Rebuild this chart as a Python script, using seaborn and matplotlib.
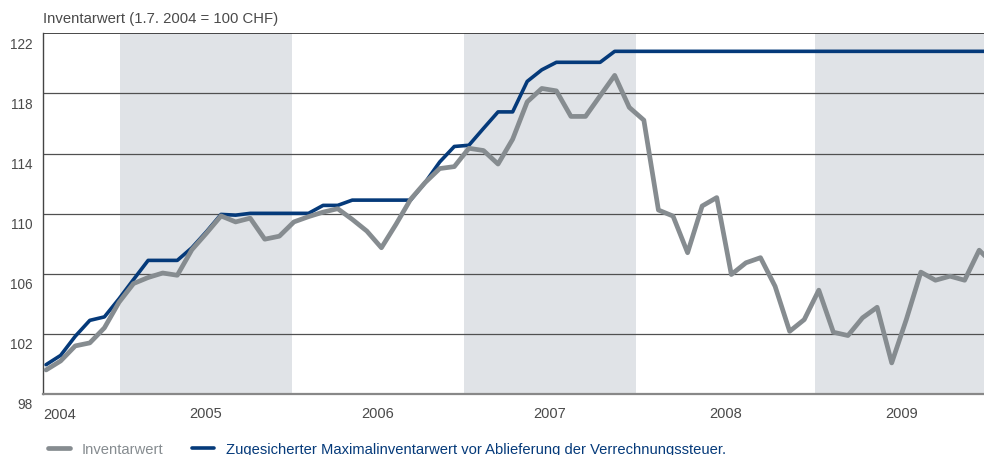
import numpy as np
import pandas as pd
import matplotlib
matplotlib.use("Agg")
import matplotlib.pyplot as plt
import matplotlib.transforms as mtransforms
import seaborn as sns

# ---------------- data (monthly observations, first = July 2004) ----------------
inventarwert = [99.6, 100.2, 101.2, 101.4, 102.4, 104.1, 105.35, 105.75, 106.05, 105.9,
                107.6, 108.7, 109.85, 109.45, 109.7, 108.3, 108.5, 109.45, 109.8, 110.1,
                110.33, 109.62, 108.84, 107.73, 109.29, 110.95, 112.07, 113.0, 113.13, 114.35,
                114.2, 113.3, 114.95, 117.44, 118.33, 118.17, 116.47, 116.47, 117.84, 119.2,
                117.07, 116.22, 110.24, 109.84, 107.4, 110.51, 111.07, 105.95, 106.73, 107.07,
                105.17, 102.17, 102.95, 104.91, 102.11, 101.89, 103.07, 103.77, 100.07, 102.95,
                106.11, 105.57, 105.84, 105.57, 107.57, 106.6]
maximalwert = [99.95, 100.57, 101.84, 102.9, 103.13, 104.33, 105.62, 106.89, 106.89, 106.89,
               107.73, 108.8, 109.95, 109.9, 110.02, 110.02, 110.02, 110.02, 110.02, 110.55,
               110.55, 110.9, 110.9, 110.9, 110.9, 110.9, 112.07, 113.44, 114.47, 114.55,
               115.67, 116.77, 116.77, 118.8, 119.57, 120.07, 120.07, 120.07, 120.07, 120.8,
               120.8, 120.8, 120.8, 120.8, 120.8, 120.8, 120.8, 120.8, 120.8, 120.8,
               120.8, 120.8, 120.8, 120.8, 120.8, 120.8, 120.8, 120.8, 120.8, 120.8,
               120.8, 120.8, 120.8, 120.8, 120.8, 120.8]
years = ["2004", "2005", "2006", "2007", "2008", "2009"]
# position of 1 January of 2005..2009 on the month-index axis (as drawn in the original)
year_starts = [5.08, 16.85, 28.67, 40.45, 52.74]
y_ticks = [98, 102, 106, 110, 114, 118, 122]
shaded_years = ["2005", "2007", "2009"]

series_names = ["Inventarwert",
                "Zugesicherter Maximalinventarwert vor Ablieferung der Verrechnungssteuer."]

# ---------------- styling ----------------
GRAY = "#868c90"
BLUE = "#053a7a"
BAND = "#e0e3e7"
TEXT = "#4a4a4a"

sns.set_theme(style="white")
plt.rcParams["font.family"] = ["Liberation Sans", "DejaVu Sans"]

fig = plt.figure(figsize=(9.84, 4.56), dpi=100)
ax = fig.add_axes([43.3 / 984, 1 - 395 / 456, 1 - 43.3 / 984, (395 - 34.3) / 456])

n = len(inventarwert)
df = pd.DataFrame({
    "t": np.arange(n),
    "inv": inventarwert,
    "max": maximalwert,
})

x_min, x_max = -0.19, 64.33

# shaded calendar years
year_len = np.mean(np.diff(year_starts))
edges = [year_starts[0] - year_len] + year_starts + [year_starts[-1] + year_len]
for i, yr in enumerate(years):
    if yr in shaded_years:
        ax.axvspan(edges[i], edges[i + 1], color=BAND, lw=0, zorder=0)

# horizontal grid
for v in y_ticks[1:-1]:
    ax.axhline(v, color="#505050", lw=0.9, zorder=1)
ax.axhline(y_ticks[-1], color="#2a2a2a", lw=1.2, zorder=1)

sns.lineplot(data=df, x="t", y="max", ax=ax, color=BLUE, lw=2.6, label=series_names[1],
             zorder=3)
sns.lineplot(data=df, x="t", y="inv", ax=ax, color=GRAY, lw=3.4, label=series_names[0],
             zorder=4)

ax.set_xlim(x_min, x_max)
ax.set_ylim(y_ticks[0], y_ticks[-1])
ax.set_xlabel("")
ax.set_ylabel("")

# y labels: sit just below their grid line
ax.set_yticks(y_ticks)
ax.set_yticklabels([])
ax.tick_params(axis="y", length=0)
ylab_tr = ax.get_yaxis_transform() + mtransforms.ScaledTranslation(
    -7.5 / 72, -2.4 / 72, fig.dpi_scale_trans)
for v in y_ticks:
    ax.text(0, v, str(v), transform=ylab_tr, ha="right", va="top", fontsize=9.8,
            color=TEXT, clip_on=False)

# x ticks: minor at year starts, major (labelled) at mid-year
mids = [(edges[i] + edges[i + 1]) / 2 for i in range(len(years))]
ax.set_xticks(mids[1:])
ax.set_xticklabels(years[1:])
ax.set_xticks(year_starts, minor=True)
ax.tick_params(axis="x", which="both", direction="in", length=6.5, width=1.4,
               color="#777777", pad=9, labelsize=10.5, labelcolor=TEXT)
ax.tick_params(axis="x", which="minor", labelbottom=False)
ax.text(x_min + 0.0, -0.035, years[0], transform=ax.get_xaxis_transform(), ha="left",
        va="top", fontsize=10.5, color=TEXT)

for s in ["top", "right"]:
    ax.spines[s].set_visible(False)
ax.spines["left"].set_color("#444444")
ax.spines["left"].set_linewidth(1.0)
ax.spines["bottom"].set_color("#888888")
ax.spines["bottom"].set_linewidth(1.6)

fig.text(43 / 984, 1 - 18.5 / 456, "Inventarwert (1.7. 2004 = 100 CHF)", ha="left",
         va="center", fontsize=10.7, color=TEXT)

# legend
handles, labels = ax.get_legend_handles_labels()
order = [labels.index(series_names[0]), labels.index(series_names[1])]
ax.legend([handles[i] for i in order], [labels[i] for i in order],
          loc="center left", bbox_to_anchor=(48 / 984, 1 - 450 / 456),
          bbox_transform=fig.transFigure, ncol=2, frameon=False, fontsize=10.6,
          handlelength=1.5, handletextpad=0.8, columnspacing=1.95, borderpad=0,
          borderaxespad=0, labelcolor="linecolor")

fig.savefig("out.png", dpi=100)
